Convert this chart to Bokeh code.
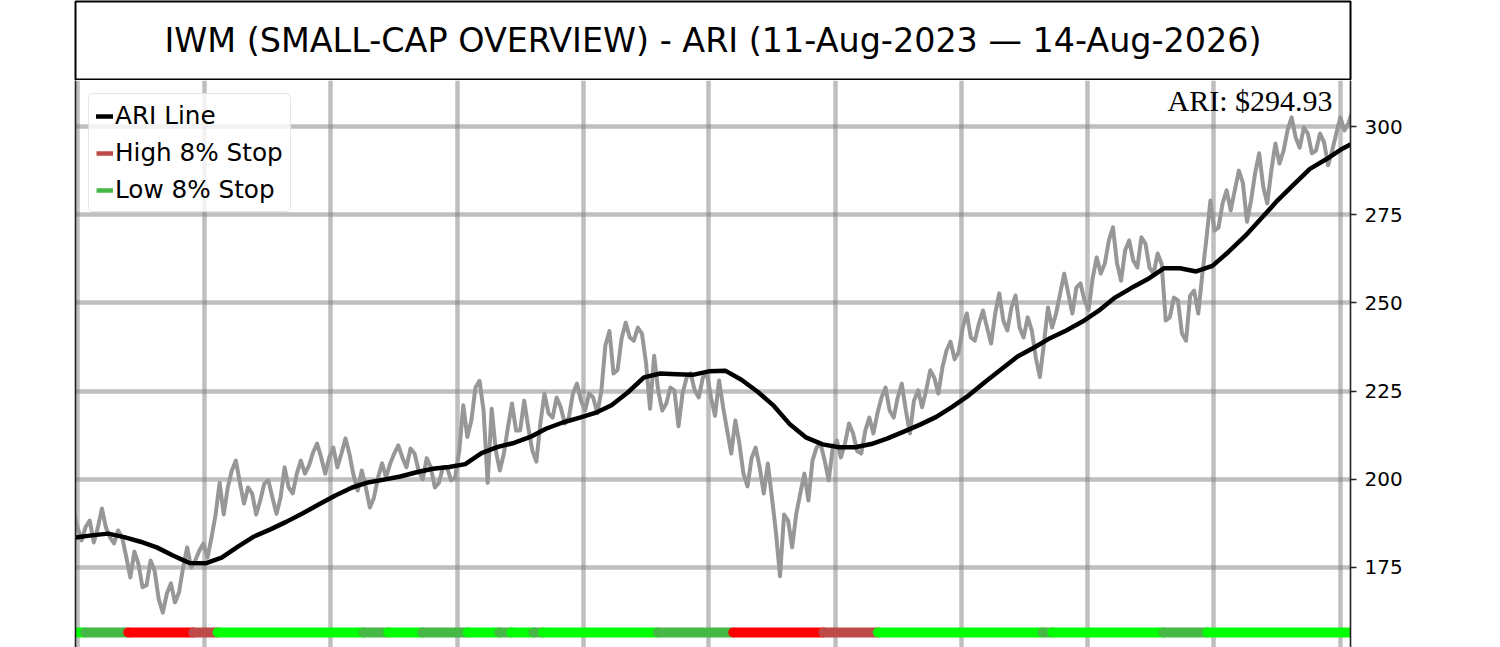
import pandas as pd
from bokeh.plotting import figure
from bokeh.models import (Range1d, FixedTicker, LinearAxis, Grid, Label, Legend,
                          LegendItem, ColumnDataSource)
from bokeh.layouts import column
from bokeh.embed import file_html
from bokeh.resources import INLINE

# ---------------- data ----------------
TITLE = "IWM (SMALL-CAP OVERVIEW) - ARI (11-Aug-2023 \u2014 14-Aug-2026)"
START = "2023-08-11"
END = "2026-08-14"

# weekly price range (high / low), one entry per week from START
week_high = [
    191.2, 186.5, 188.3, 191.7, 186.3, 185.5, 183.5, 179.5, 176.0, 177.0,
    174.0, 167.6, 170.5, 175.0, 180.7, 179.8, 181.8, 190.0, 199.0, 202.5,
    205.3, 197.7, 196.0, 198.8, 199.7, 194.8, 203.4, 201.6, 205.3, 207.6,
    210.1, 206.2, 209.0, 211.6, 207.0, 202.5, 197.7, 200.5, 204.5, 207.3,
    209.6, 208.7, 207.3, 206.0, 203.4, 203.4, 203.4, 208.0, 221.0, 226.0,
    227.9, 220.0, 208.2, 214.7, 221.5, 222.3, 214.7, 216.0, 224.3, 223.2,
    220.4, 224.3, 227.1, 224.3, 223.2, 238.0, 242.0, 240.0, 244.4, 243.0,
    241.3, 235.0, 225.2, 226.0, 225.2, 228.8, 230.0, 228.8, 230.0, 228.0,
    220.4, 216.7, 210.1, 206.0, 209.0, 204.5, 195.0, 190.0, 188.3, 196.0,
    201.6, 209.0, 210.1, 209.0, 211.0, 215.8, 213.0, 213.8, 217.5, 223.2,
    226.0, 223.2, 227.1, 222.3, 225.2, 230.9, 228.8, 236.5, 239.0, 243.0,
    247.0, 244.2, 247.8, 247.0, 252.7, 248.7, 252.1, 245.9, 242.2, 238.5,
    248.7, 252.7, 258.3, 254.4, 255.5, 257.0, 262.9, 267.7, 271.4, 264.9,
    267.7, 268.6, 266.8, 264.0, 261.0, 251.5, 250.7, 252.0, 253.5, 268.0,
    279.0, 278.2, 281.9, 287.5, 284.0, 286.7, 292.4, 287.5, 295.2, 299.0,
    302.6, 299.7, 298.0, 298.0, 295.5, 298.0, 302.6, 304.5,
]
week_low = [
    186.3, 182.7, 182.1, 186.3, 183.5, 181.8, 178.0, 172.2, 169.4, 170.0,
    166.0, 162.2, 165.1, 168.0, 175.0, 177.0, 177.8, 183.5, 190.0, 197.7,
    198.9, 193.1, 190.0, 194.0, 194.8, 190.2, 197.7, 196.0, 201.6, 203.9,
    206.2, 201.6, 203.4, 207.3, 201.0, 196.8, 192.0, 194.8, 200.5, 204.5,
    206.2, 203.4, 202.5, 200.0, 197.7, 199.0, 199.7, 200.5, 212.0, 216.7,
    219.5, 199.0, 202.5, 207.3, 213.8, 213.8, 208.2, 205.0, 218.7, 217.5,
    215.8, 217.5, 222.3, 219.5, 218.7, 225.0, 230.0, 231.0, 240.2, 239.3,
    233.0, 220.0, 219.5, 221.5, 215.0, 224.3, 225.2, 223.2, 223.2, 218.0,
    213.8, 207.3, 201.6, 198.0, 203.4, 196.0, 185.0, 172.5, 180.7, 190.2,
    194.0, 205.3, 205.3, 199.7, 206.2, 210.1, 208.0, 207.3, 213.0, 218.7,
    219.5, 217.5, 219.5, 213.0, 220.4, 225.2, 224.3, 231.7, 234.0, 236.0,
    240.2, 239.3, 243.0, 238.5, 245.0, 242.2, 243.0, 240.2, 234.5, 229.0,
    243.0, 247.0, 252.7, 247.0, 250.7, 248.0, 258.3, 261.2, 261.2, 256.3,
    262.0, 260.0, 260.0, 258.3, 245.0, 245.9, 241.3, 239.3, 247.0, 258.0,
    270.5, 271.4, 276.2, 281.9, 273.0, 279.0, 283.0, 278.2, 289.5, 293.0,
    296.9, 294.0, 292.4, 293.2, 289.0, 293.2, 298.9, 300.9,
]

# ARI line, sampled every second week (plus the last week)
ari_week = list(range(0, 157, 2)) + [157]
ari_value = [
    183.5, 184.1, 184.6, 183.6, 182.3, 180.7, 178.4, 176.3, 176.2, 177.8,
    180.9, 183.8, 185.8, 188.0, 190.4, 192.9, 195.4, 197.6, 199.1, 199.9,
    200.8, 202.0, 203.0, 203.5, 204.3, 207.4, 209.2, 210.3, 212.0, 214.4,
    216.1, 217.4, 218.8, 221.0, 224.6, 228.9, 230.0, 229.8, 229.6, 230.6,
    230.8, 228.2, 224.8, 220.8, 215.5, 211.8, 209.9, 209.1, 209.1, 210.0,
    211.6, 213.5, 215.5, 217.7, 220.6, 223.8, 227.6, 231.2, 234.8, 237.3,
    240.0, 242.2, 244.7, 247.8, 251.5, 254.2, 256.7, 259.8, 259.8, 258.9,
    260.5, 264.5, 268.9, 273.9, 279.0, 283.5, 288.0, 290.7, 293.7, 294.93,
]

# stop-state strip: runs (end week of each run) and the state of each run
stop_run_end_week = [1.2, 6.5, 14.5, 17.5, 35.5, 38.5, 42.7, 48.3, 52.2, 53.7,
                     56.4, 57.6, 71.7, 81.0, 92.1, 98.8, 119.1, 120.3, 134.0,
                     139.4, 157.0]
stop_run_state = ["above", "low", "below", "high", "above", "low", "above",
                  "low", "above", "low", "above", "low", "above", "low",
                  "below", "high", "above", "low", "above", "low", "above"]

y_ticks = [175, 200, 225, 250, 275, 300]
grid_dates = ["2023-08-13", "2023-11-30", "2024-03-18", "2024-07-05",
              "2024-10-22", "2025-02-07", "2025-05-27", "2025-09-13",
              "2025-12-30", "2026-04-18", "2026-08-05"]

# ---------------- styles ----------------
STATE_COLOR = {"above": "#00ff00", "low": "#45b845",
               "below": "#ff0000", "high": "#be4a48"}
PRICE_COLOR = "#979797"
STOP_Y = 156.6
FONT = "DejaVu Sans"

BORDER_L = 75
BORDER_R = 70
FRAME_W = 1275
W = BORDER_L + FRAME_W + BORDER_R
Y_TOP, Y_BOTTOM = 313.04, 152.32

def ms(t):
    return pd.Timestamp(t).value / 1e6

DAY = pd.Timedelta(days=1)
t0 = pd.Timestamp(START)
weeks = pd.date_range(START, periods=len(week_high), freq="7D")
ari_dates = [t0 + 7 * w * DAY for w in ari_week]

# ---------------- title box ----------------
tp = figure(width=W, height=80, x_range=Range1d(0, 1), y_range=Range1d(0, 1),
            toolbar_location=None, output_backend="svg",
            x_axis_location=None, y_axis_location=None,
            min_border_left=BORDER_L, min_border_right=BORDER_R,
            min_border_top=1, min_border_bottom=1)
tp.grid.visible = False
tp.outline_line_color = "black"
tp.outline_line_width = 2
tp.add_layout(Label(x=0.5, y=0.5, text=TITLE, text_align="center",
                    text_baseline="alphabetic", text_font=FONT,
                    text_font_size="33.4px", text_color="black"))

# ---------------- main chart ----------------
p = figure(width=W, height=567,
           x_range=Range1d(t0, pd.Timestamp(END)),
           y_range=Range1d(Y_BOTTOM, Y_TOP),
           toolbar_location=None, output_backend="svg",
           x_axis_type="datetime", x_axis_location=None,
           y_axis_location="right",
           min_border_left=BORDER_L, min_border_right=BORDER_R,
           min_border_top=0, min_border_bottom=0)
p.outline_line_color = None
p.xgrid.visible = False

yax = p.yaxis[0]
yax.ticker = FixedTicker(ticks=y_ticks)
yax.axis_line_color = "#222222"
yax.axis_line_width = 1.6
yax.major_tick_line_color = "#222222"
yax.major_tick_line_width = 1.6
yax.major_tick_out = 6
yax.major_tick_in = 0
yax.minor_tick_line_color = None
yax.major_label_text_font = FONT
yax.major_label_text_font_size = "20px"
yax.major_label_text_color = "black"
yax.major_label_standoff = 8

p.ygrid.grid_line_color = "gray"
p.ygrid.grid_line_alpha = 0.5
p.ygrid.grid_line_width = 4.5

left = LinearAxis(ticker=FixedTicker(ticks=[]), axis_line_color="#222222",
                  axis_line_width=1.6, major_tick_line_color=None,
                  minor_tick_line_color=None, major_label_text_font_size="0px")
p.add_layout(left, "left")

xgrid = Grid(dimension=0, ticker=FixedTicker(ticks=[ms(d) for d in grid_dates]),
             grid_line_color="gray", grid_line_alpha=0.5, grid_line_width=4.5)
p.add_layout(xgrid)

# price trace: each week's range drawn as a connected high/low zig-zag
zx, zy = [], []
for i, (t, h, l) in enumerate(zip(weeks, week_high, week_low)):
    a, b = (h, l) if i % 2 == 0 else (l, h)
    zx += [t - 1.75 * DAY, t + 1.75 * DAY]
    zy += [a, b]
p.line(zx, zy, line_color=PRICE_COLOR, line_width=4, line_join="round")

# ARI line
ari_r = p.line(ari_dates, ari_value, line_color="black", line_width=4.5,
               line_join="round", line_cap="round")

# stop strip
xs, ys, cs = [], [], []
prev = 0.0
for end_w, st in zip(stop_run_end_week, stop_run_state):
    xs.append([ms(t0 + 7 * prev * DAY), ms(t0 + 7 * end_w * DAY)])
    ys.append([STOP_Y, STOP_Y])
    cs.append(STATE_COLOR[st])
    prev = end_w
p.multi_line(xs="xs", ys="ys", line_color="cs", line_width=10,
             line_cap="round",
             source=ColumnDataSource(dict(xs=xs, ys=ys, cs=cs)))

# legend proxies (no visible mark: single NaN point)
nan = float("nan")
hi_r = p.line([t0], [nan], line_color=STATE_COLOR["high"], line_width=4.5)
lo_r = p.line([t0], [nan], line_color=STATE_COLOR["low"], line_width=4.5)

legend = Legend(items=[LegendItem(label="ARI Line", renderers=[ari_r]),
                       LegendItem(label="High 8% Stop", renderers=[hi_r]),
                       LegendItem(label="Low 8% Stop", renderers=[lo_r])],
                location="top_left", margin=13, padding=7, spacing=8,
                glyph_width=17, glyph_height=28, label_height=28,
                label_standoff=2, label_text_font=FONT,
                label_text_font_size="24.7px", label_text_color="black",
                border_line_color="#cccccc", border_line_width=1.5,
                background_fill_color="white", background_fill_alpha=0.8)
if "border_radius" in Legend.properties():
    legend.border_radius = 5
p.add_layout(legend)

# last ARI value label
p.add_layout(Label(x=ms(END), y=Y_TOP, x_offset=-18, y_offset=-20,
                   text=f"ARI: ${ari_value[-1]:.2f}", text_align="right",
                   text_baseline="alphabetic", text_font="Liberation Serif",
                   text_font_size="30px", text_color="black"))

layout = column(tp, p, spacing=0)
open("out.html", "w").write(file_html(layout, INLINE))
